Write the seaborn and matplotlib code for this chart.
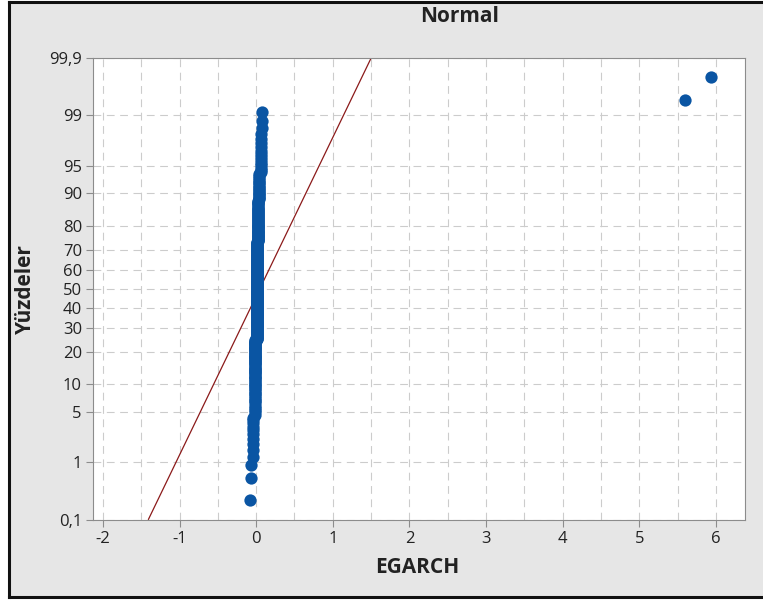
from statistics import NormalDist
import numpy as np
import pandas as pd
import seaborn as sns
import matplotlib.pyplot as plt
from matplotlib.ticker import FixedLocator, MultipleLocator
from matplotlib.patches import Rectangle
from matplotlib.lines import Line2D

# EGARCH values: each level and how many points sit on it
egarch_levels = [-0.078, -0.069, -0.048, -0.037, -0.015, 0.007, 0.028,
                 0.039, 0.061, 0.065, 0.070, 0.075, 5.60, 5.94]
level_counts = [1, 2, 2, 8, 61, 147, 44, 17, 11, 2, 2, 1, 1, 1]

pct_ticks = [0.1, 1, 5, 10, 20, 30, 40, 50, 60, 70, 80, 90, 95, 99, 99.9]
pct_labels = ['0,1', '1', '5', '10', '20', '30', '40', '50', '60', '70',
              '80', '90', '95', '99', '99,9']
x_ticks = [-2, -1, 0, 1, 2, 3, 4, 5, 6]

sns.set_style('white')
plt.rcParams['font.family'] = ['Open Sans', 'DejaVu Sans']
plt.rcParams['axes.unicode_minus'] = False

nd = NormalDist()


def _z(p):
    if np.isnan(p):
        return np.nan
    return nd.inv_cdf(min(max(p, 1e-10), 1 - 1e-10))


def to_z(pct):
    return np.vectorize(_z, otypes=[float])(np.asarray(pct, float) / 100)


def to_pct(z):
    return np.vectorize(nd.cdf, otypes=[float])(np.asarray(z, float)) * 100


# normal probability plot positions (median ranks, as Minitab does)
vals = np.sort(np.repeat(egarch_levels, level_counts))
n = len(vals)
rank = np.arange(1, n + 1)
df = pd.DataFrame({'EGARCH': vals, 'pct': (rank - 0.3) / (n + 0.4) * 100})

# fitted normal line from mean / st.dev
mu, sd = vals.mean(), vals.std(ddof=1)
line_pct = np.array([0.1, 99.9])
line_x = mu + sd * to_z(line_pct)

W, H = 763, 601
fig = plt.figure(figsize=(W / 100, H / 100), dpi=100, facecolor='white')
# grey panel with a black frame on left / top / bottom
fig.add_artist(Rectangle((8.5 / W, 4.5 / H), 1, 1 - 6 / H, transform=fig.transFigure,
                         facecolor='#e6e6e6', edgecolor='none', zorder=-5))
x0, yb, yt = 8.5 / W, 4.5 / H, 1 - 1.5 / H
for xs, ys in [([x0, x0], [yb, yt]), ([x0, 1], [yt, yt]), ([x0, 1], [yb, yb])]:
    fig.add_artist(Line2D(xs, ys, transform=fig.transFigure, color='#111111',
                          lw=2.2, solid_capstyle='projecting', zorder=-4))

ax = fig.add_axes([93 / W, 81.5 / H, 652 / W, 461.5 / H])
ax.set_facecolor('white')
ax.set_yscale('function', functions=(to_z, to_pct))

sns.lineplot(x=line_x, y=line_pct, color='#8b1a1a', lw=0.9, ax=ax, zorder=2)
sns.scatterplot(data=df, x='EGARCH', y='pct', color='#0a55a3', s=78,
                linewidth=0, ax=ax, zorder=3)

ax.set_xlim(-2.13, 6.38)
ax.set_ylim(0.1, 99.9)
ax.xaxis.set_major_locator(FixedLocator(x_ticks))
ax.xaxis.set_minor_locator(MultipleLocator(0.5))
ax.set_yticks(pct_ticks, pct_labels)

grid_kw = dict(color='#cccccc', lw=0.8, linestyle=(0, (7, 5)))
ax.grid(True, axis='x', which='both', **grid_kw)
ax.grid(True, axis='y', which='major', **grid_kw)
ax.set_axisbelow(True)

ax.tick_params(which='major', bottom=True, left=True, length=5, width=0.8,
               color='#8c8c8c', labelsize=12, labelcolor='#222222', pad=3)
ax.tick_params(which='minor', length=0)
for sp in ax.spines.values():
    sp.set_color('#8c8c8c')
    sp.set_linewidth(0.8)

ax.set_xlabel('EGARCH', fontsize=15, fontweight='bold', color='#222222', va='center')
ax.xaxis.set_label_coords(0.4977, -0.105)
ax.set_ylabel('Yüzdeler', fontsize=15, fontweight='bold', color='#222222', va='center')
ax.yaxis.set_label_coords(-0.104, 0.5)

fig.text(460 / W, 1 - 17 / H, 'Normal', ha='center', va='center',
         fontsize=15, fontweight='bold', color='#222222')

fig.savefig('out.png', dpi=100)
